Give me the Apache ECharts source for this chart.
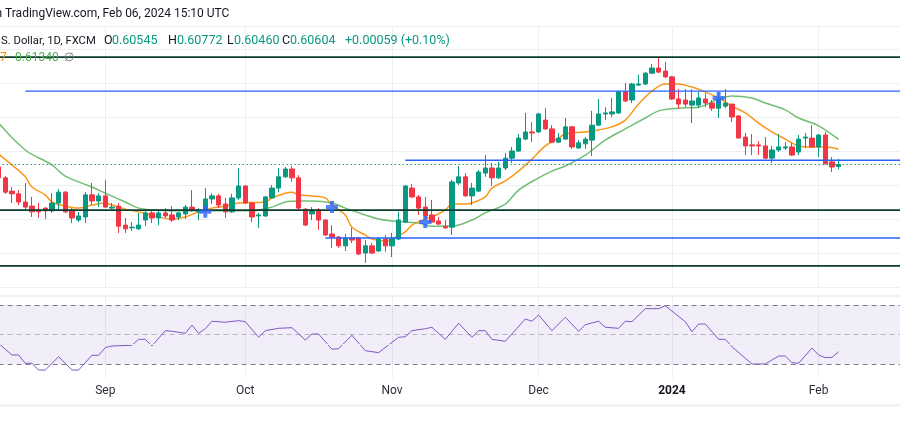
<!DOCTYPE html>
<html><head><meta charset="utf-8">
<script src="https://cdn.jsdelivr.net/npm/echarts@6/dist/echarts.min.js"></script>
<style>html,body{margin:0;padding:0;background:#fff;overflow:hidden}#c{width:900px;height:441px}</style>
</head><body><div id="c"></div>
<script>
// ---- categories (trading days) ----
const dates = [
'2023-08-10','2023-08-11','2023-08-14','2023-08-15','2023-08-16','2023-08-17','2023-08-18','2023-08-21','2023-08-22','2023-08-23','2023-08-24','2023-08-25','2023-08-28','2023-08-29','2023-08-30','2023-08-31',
'2023-09-01','2023-09-04','2023-09-05','2023-09-06','2023-09-07','2023-09-08','2023-09-11','2023-09-12','2023-09-13','2023-09-14','2023-09-15','2023-09-18','2023-09-19','2023-09-20','2023-09-21','2023-09-22','2023-09-25','2023-09-26','2023-09-27','2023-09-28','2023-09-29',
'2023-10-02','2023-10-03','2023-10-04','2023-10-05','2023-10-06','2023-10-09','2023-10-10','2023-10-11','2023-10-12','2023-10-13','2023-10-16','2023-10-17','2023-10-18','2023-10-19','2023-10-20','2023-10-23','2023-10-24','2023-10-25','2023-10-26','2023-10-27','2023-10-30','2023-10-31',
'2023-11-01','2023-11-02','2023-11-03','2023-11-06','2023-11-07','2023-11-08','2023-11-09','2023-11-10','2023-11-13','2023-11-14','2023-11-15','2023-11-16','2023-11-17','2023-11-20','2023-11-21','2023-11-22','2023-11-23','2023-11-24','2023-11-27','2023-11-28','2023-11-29','2023-11-30',
'2023-12-01','2023-12-04','2023-12-05','2023-12-06','2023-12-07','2023-12-08','2023-12-11','2023-12-12','2023-12-13','2023-12-14','2023-12-15','2023-12-18','2023-12-19','2023-12-20','2023-12-21','2023-12-22','2023-12-26','2023-12-27','2023-12-28','2023-12-29',
'2024-01-02','2024-01-03','2024-01-04','2024-01-05','2024-01-08','2024-01-09','2024-01-10','2024-01-11','2024-01-12','2024-01-15','2024-01-16','2024-01-17','2024-01-18','2024-01-19','2024-01-22','2024-01-23','2024-01-24','2024-01-25','2024-01-26','2024-01-29','2024-01-30','2024-01-31',
'2024-02-01','2024-02-02','2024-02-05','2024-02-06',
'2024-02-07','2024-02-08','2024-02-09','2024-02-12','2024-02-13','2024-02-14','2024-02-15','2024-02-16','2024-02-19','2024-02-20'
];
const tickIdx = [16, 37, 59, 81, 101, 123];
const tickLabels = ['Sep', 'Oct', 'Nov', 'Dec', '2024', 'Feb'];

// ---- OHLC ----
const opens = [0.6053,0.6021,0.5982,0.5974,0.5950,0.5938,0.5926,0.5932,0.5924,0.5947,0.5979,0.5926,0.5897,0.5906,0.5971,0.5953,0.5968,0.5932,0.5938,0.5882,0.5874,0.5871,0.5897,0.5918,0.5903,0.5918,0.5912,0.5906,0.5915,0.5935,0.5921,0.5926,0.5959,0.5968,0.5944,0.5921,0.5962,0.5997,0.5947,0.5909,0.5909,0.5962,0.5991,0.6024,0.6047,0.6021,0.5929,0.5915,0.5926,0.5897,0.5856,0.5847,0.5821,0.5844,0.5844,0.5800,0.5821,0.5806,0.5841,0.5821,0.5841,0.5891,0.5991,0.5965,0.5935,0.5912,0.5894,0.5879,0.5876,0.6006,0.6024,0.5968,0.5982,0.6035,0.6050,0.6021,0.6050,0.6079,0.6100,0.6135,0.6156,0.6156,0.6191,0.6165,0.6126,0.6135,0.6171,0.6109,0.6121,0.6132,0.6176,0.6209,0.6209,0.6212,0.6274,0.6250,0.6294,0.6297,0.6329,0.6344,0.6335,0.6318,0.6253,0.6250,0.6235,0.6235,0.6253,0.6241,0.6226,0.6232,0.6238,0.6203,0.6141,0.6118,0.6118,0.6115,0.6079,0.6103,0.6109,0.6112,0.6097,0.6138,0.6138,0.6112,0.6147,0.6068,0.60545];
const highs = [0.6059,0.6026,0.5994,0.5985,0.6006,0.5965,0.5947,0.5935,0.5976,0.5988,0.5982,0.5932,0.5921,0.5979,0.6006,0.5976,0.6015,0.5947,0.5947,0.5903,0.5891,0.5918,0.5926,0.5926,0.5926,0.5932,0.5938,0.5921,0.5941,0.5985,0.5932,0.5991,0.5976,0.5974,0.5962,0.5974,0.6050,0.6000,0.5950,0.5918,0.5968,0.6000,0.6050,0.6053,0.6056,0.6029,0.5932,0.5935,0.5932,0.5900,0.5882,0.5850,0.5856,0.5874,0.5847,0.5838,0.5829,0.5844,0.5853,0.5859,0.5921,0.6000,0.6003,0.5971,0.5965,0.5956,0.5906,0.5897,0.6015,0.6056,0.6035,0.6006,0.6044,0.6088,0.6065,0.6068,0.6094,0.6112,0.6150,0.6212,0.6185,0.6212,0.6226,0.6176,0.6153,0.6197,0.6174,0.6132,0.6141,0.6218,0.6253,0.6229,0.6256,0.6276,0.6300,0.6300,0.6324,0.6332,0.6356,0.6376,0.6362,0.6321,0.6282,0.6282,0.6282,0.6274,0.6271,0.6250,0.6271,0.6282,0.6238,0.6206,0.6153,0.6150,0.6129,0.6141,0.6115,0.6150,0.6126,0.6124,0.6147,0.6153,0.6176,0.6150,0.6156,0.6082,0.60772];
const lows = [0.6015,0.5974,0.5947,0.5941,0.5926,0.5906,0.5903,0.5900,0.5918,0.5926,0.5918,0.5888,0.5891,0.5888,0.5941,0.5935,0.5932,0.5929,0.5859,0.5859,0.5865,0.5868,0.5879,0.5888,0.5882,0.5903,0.5891,0.5897,0.5900,0.5921,0.5897,0.5918,0.5944,0.5932,0.5903,0.5918,0.5956,0.5944,0.5891,0.5874,0.5906,0.5959,0.5979,0.6021,0.6009,0.5926,0.5879,0.5897,0.5868,0.5850,0.5815,0.5815,0.5806,0.5829,0.5794,0.5771,0.5797,0.5803,0.5803,0.5788,0.5838,0.5888,0.5962,0.5912,0.5903,0.5888,0.5882,0.5871,0.5853,0.6000,0.5965,0.5941,0.5979,0.6024,0.5997,0.6018,0.6044,0.6065,0.6097,0.6132,0.6126,0.6153,0.6162,0.6124,0.6124,0.6132,0.6106,0.6106,0.6106,0.6085,0.6174,0.6191,0.6200,0.6209,0.6244,0.6241,0.6291,0.6294,0.6326,0.6329,0.6315,0.6250,0.6224,0.6229,0.6182,0.6226,0.6229,0.6218,0.6197,0.6226,0.6185,0.6138,0.6088,0.6088,0.6088,0.6076,0.6065,0.6097,0.6103,0.6085,0.6088,0.6109,0.6109,0.6082,0.6062,0.6038,0.60460];
const closes = [0.6021,0.5979,0.5974,0.5950,0.5935,0.5921,0.5921,0.5924,0.5947,0.5979,0.5921,0.5903,0.5909,0.5971,0.5953,0.5968,0.5935,0.5935,0.5879,0.5871,0.5876,0.5882,0.5918,0.5903,0.5918,0.5909,0.5897,0.5918,0.5935,0.5926,0.5926,0.5959,0.5968,0.5941,0.5921,0.5962,0.5997,0.5947,0.5906,0.5912,0.5965,0.5991,0.6024,0.6047,0.6021,0.5932,0.5882,0.5926,0.5897,0.5853,0.5847,0.5821,0.5844,0.5838,0.5797,0.5821,0.5800,0.5841,0.5821,0.5844,0.5897,0.5997,0.5965,0.5932,0.5909,0.5891,0.5885,0.5874,0.6009,0.6024,0.5968,0.5991,0.6038,0.6050,0.6021,0.6050,0.6079,0.6100,0.6138,0.6156,0.6153,0.6209,0.6165,0.6126,0.6138,0.6171,0.6112,0.6124,0.6135,0.6176,0.6209,0.6212,0.6215,0.6274,0.6247,0.6297,0.6297,0.6329,0.6344,0.6332,0.6318,0.6253,0.6238,0.6238,0.6247,0.6256,0.6241,0.6226,0.6250,0.6241,0.6200,0.6138,0.6115,0.6115,0.6115,0.6079,0.6103,0.6112,0.6112,0.6088,0.6135,0.6141,0.6112,0.6147,0.6062,0.6053,0.60604];

// ---- moving averages ----
const fastMaIdx = [0,2,4,5,7,8,10,12,14,16,17,19,21,24,26,28,30,32,34,36,40,41,43,44,45,47,49,50,52,53,55,56,58,59,61,62,64,65,67,68,70,71,73,74,76,78,80,82,84,85,88,90,92,94,96,98,100,102,104,106,108,110,112,114,116,118,120,122,124,126];
const fastMaVal = [0.6091,0.6059,0.6024,0.5994,0.5971,0.5950,0.5938,0.5932,0.5941,0.5947,0.5941,0.5929,0.5921,0.5906,0.5900,0.5906,0.5921,0.5932,0.5938,0.5947,0.5950,0.5962,0.5976,0.5979,0.5971,0.5968,0.5962,0.5941,0.5912,0.5876,0.5853,0.5841,0.5835,0.5841,0.5862,0.5882,0.5900,0.5906,0.5926,0.5944,0.5944,0.5947,0.5965,0.5991,0.6012,0.6041,0.6076,0.6115,0.6138,0.6150,0.6156,0.6162,0.6171,0.6191,0.6238,0.6276,0.6297,0.6297,0.6288,0.6274,0.6256,0.6232,0.6212,0.6182,0.6156,0.6135,0.6115,0.6112,0.6112,0.6106];
const slowMaIdx = [0,4,8,10,14,16,19,21,24,27,30,35,38,41,43,45,47,50,52,55,57,59,63,65,68,71,73,76,78,81,83,85,88,91,94,97,99,102,105,108,110,113,115,118,120,123,126];
const slowMaVal = [0.6182,0.6103,0.6059,0.6026,0.5994,0.5976,0.5950,0.5932,0.5926,0.5924,0.5924,0.5924,0.5924,0.5935,0.5950,0.5953,0.5953,0.5947,0.5932,0.5912,0.5900,0.5894,0.5888,0.5879,0.5879,0.5897,0.5918,0.5944,0.5985,0.6021,0.6041,0.6056,0.6088,0.6132,0.6165,0.6197,0.6218,0.6226,0.6229,0.6253,0.6262,0.6256,0.6241,0.6221,0.6197,0.6174,0.6134];

// ---- cross signals ----
const crossIdx = [31, 50, 64, 108];
const crossVal = [0.5921, 0.5935, 0.5891, 0.6256];

// ---- horizontal drawings ----
const levelVal = [0.6376, 0.6276, 0.6073, 0.5926, 0.5844, 0.5762];
const levelStart = [0, 4, 61, 0, 49, 0];
const levelKind = ['dark', 'blue', 'blue', 'dark', 'blue', 'dark'];

// ---- RSI ----
const rsiIdx = [0,2,3,4,5,6,7,9,11,12,14,15,16,17,20,21,22,23,25,26,28,29,30,31,32,34,36,37,39,40,42,44,46,47,48,50,51,53,55,57,60,61,62,64,65,67,69,71,72,73,74,76,79,80,81,83,85,87,88,90,91,93,94,95,97,98,99,100,103,104,105,106,108,109,110,113,115,117,118,119,120,122,123,124,125,126];
const rsiVal = [44.0,36.1,36.1,30.5,30.5,25.9,25.9,34.9,25.9,25.9,35.9,35.9,41.1,42.2,42.7,46.7,46.7,42.2,52.6,52.2,50.8,56.4,50.8,53.9,59.0,58.3,59.4,58.7,48.1,52.6,54.2,54.6,46.3,50.3,50.3,40.0,40.4,49.5,39.0,37.7,48.1,48.5,52.6,53.9,54.9,46.7,57.6,48.1,52.6,52.6,46.7,45.4,60.5,59.0,63.2,52.6,61.7,52.2,56.6,59.0,54.9,54.2,59.0,58.7,67.5,67.5,67.5,69.5,58.7,51.9,57.1,57.1,46.7,46.7,41.7,30.0,30.0,35.4,35.4,30.9,30.5,40.8,36.1,34.3,34.5,38.3];
const rsiBands = [70, 50, 30];

// ---------------------------------------------------------------
const UP = '#089981', DOWN = '#F23645', BLUE = '#2962FF', DARK = '#0B3D2C';
const GRID = '#EDEFF3';
const FONT = 'Roboto, "Liberation Sans", sans-serif';
const lastIdx = dates.length - 1;
const zip = (a, b) => a.map((v, i) => [v, b[i]]);

const candleData = opens.map((o, i) => [o, closes[i], lows[i], highs[i]]);

const xCommon = (gi, showLabel) => ({
  type: 'category', gridIndex: gi, data: dates, boundaryGap: false,
  axisLine: { show: false }, axisTick: { show: false },
  splitLine: { show: true, interval: (i) => tickIdx.includes(i), lineStyle: { color: GRID, width: 1 } },
  axisLabel: {
    show: showLabel, interval: (i) => tickIdx.includes(i), margin: 7,
    color: '#2a2e39', fontSize: 12, fontFamily: FONT,
    formatter: (v, i) => { const k = tickIdx.indexOf(i); const t = k >= 0 ? tickLabels[k] : ''; return t === '2024' ? '{b|' + t + '}' : t; },
    rich: { b: { fontWeight: 'bold', color: '#131722', fontSize: 12, fontFamily: FONT } }
  }
});

const levelSeries = levelVal.map((v, k) => ({
  type: 'line', xAxisIndex: 0, yAxisIndex: 0, silent: true, z: 5,
  data: [[levelStart[k], v], [lastIdx, v]], showSymbol: false, symbol: 'none',
  lineStyle: { color: levelKind[k] === 'dark' ? DARK : BLUE, width: levelKind[k] === 'dark' ? 1.6 : 1.4 }
}));

const plus = 'path://M4,0H8V4H12V8H8V12H4V8H0V4H4Z';

const txt = (x, y, text, fill, size, extra) => ({
  type: 'text', x: x, y: y, z: 100, silent: true,
  style: Object.assign({ text: text, fill: fill, font: size + 'px ' + FONT, verticalAlign: 'middle' }, extra || {})
});

const option = {
  animation: false,
  backgroundColor: '#ffffff',
  grid: [
    { left: -1.4, right: -5.3, top: 26, height: 261, containLabel: false, outerBoundsMode: 'none' },
    { left: -1.4, right: -5.3, top: 296, height: 82, containLabel: false, outerBoundsMode: 'none' }
  ],
  xAxis: [xCommon(0, false), xCommon(1, true)],
  yAxis: [
    { type: 'value', gridIndex: 0, min: 0.57, max: 0.646765, interval: 0.01, position: 'right',
      axisLine: { show: false }, axisTick: { show: false }, axisLabel: { show: false },
      splitLine: { show: true, lineStyle: { color: GRID, width: 1 } } },
    { type: 'value', gridIndex: 1, min: 20.5, max: 76.1, position: 'right',
      axisLine: { show: false }, axisTick: { show: false }, axisLabel: { show: false },
      splitLine: { show: false } }
  ],
  series: [
    { type: 'line', name: 'slow', xAxisIndex: 0, yAxisIndex: 0, data: zip(slowMaIdx, slowMaVal),
      showSymbol: false, symbol: 'none', smooth: 0.35, z: 2, silent: true,
      lineStyle: { color: '#4CAF50', width: 1.5, opacity: 0.8 } },
    { type: 'line', name: 'fast', xAxisIndex: 0, yAxisIndex: 0, data: zip(fastMaIdx, fastMaVal),
      showSymbol: false, symbol: 'none', smooth: 0.35, z: 2, silent: true,
      lineStyle: { color: '#FB8C00', width: 1.5, opacity: 0.9 } },
    { type: 'candlestick', xAxisIndex: 0, yAxisIndex: 0, data: candleData, barWidth: 5, z: 3,
      itemStyle: { color: UP, color0: DOWN, borderColor: UP, borderColor0: DOWN, borderWidth: 1 } },
    ...levelSeries,
    { type: 'line', xAxisIndex: 0, yAxisIndex: 0, silent: true, z: 4,
      data: [[0, closes[closes.length - 1]], [lastIdx, closes[closes.length - 1]]], showSymbol: false, symbol: 'none',
      lineStyle: { color: UP, width: 1, type: [1.5, 2.5] } },
    { type: 'scatter', xAxisIndex: 0, yAxisIndex: 0, data: zip(crossIdx, crossVal), symbol: plus, symbolSize: 12,
      itemStyle: { color: BLUE }, z: 6, silent: true },
    { type: 'line', xAxisIndex: 1, yAxisIndex: 1, data: zip(rsiIdx, rsiVal), showSymbol: false, symbol: 'none',
      lineStyle: { color: '#7E57C2', width: 1 }, z: 4, silent: true,
      markArea: { silent: true, itemStyle: { color: 'rgba(126,87,194,0.1)' }, data: [[{ yAxis: rsiBands[2] }, { yAxis: rsiBands[0] }]] },
      markLine: { silent: true, symbol: 'none', label: { show: false },
        data: [
          { yAxis: 43.4, lineStyle: { color: '#ECEDF1', type: 'solid', width: 1 } },
          { yAxis: rsiBands[0], lineStyle: { color: '#787B86', type: [5, 4], width: 1 } },
          { yAxis: rsiBands[1], lineStyle: { color: 'rgba(120,123,134,0.5)', type: [5, 4], width: 1 } },
          { yAxis: rsiBands[2], lineStyle: { color: '#787B86', type: [5, 4], width: 1 } }
        ] } }
  ],
  graphic: [
    { type: 'rect', shape: { x: 0, y: 295.5, width: 900, height: 1 }, style: { fill: '#E0E3EB' }, silent: true, z: 1 },
    { type: 'rect', shape: { x: 0, y: 404.5, width: 900, height: 2 }, style: { fill: '#ECEEF2' }, silent: true, z: 1 },
    txt(-11.4, 14, 'on TradingView.com, Feb 06, 2024 15:10 UTC', '#131722', 12),
    txt(1, 41, 'S. Dollar, 1D, FXCM', '#131722', 11.3),
    txt(104, 41, 'O', '#131722', 12.5), txt(112, 41, '0.60545', UP, 12.5),
    txt(168, 41, 'H', '#131722', 12.5), txt(177, 41, '0.60772', UP, 12.5),
    txt(227, 41, 'L', '#131722', 12.5), txt(234, 41, '0.60460', UP, 12.5),
    txt(282, 41, 'C', '#131722', 12.5), txt(290, 41, '0.60604', UP, 12.5),
    txt(345, 41, '+0.00059 (+0.10%)', UP, 12.5),
    txt(0, 58, '7', '#FB8C00', 12),
    txt(15, 58, '0.61340', '#4CAF50', 12),
    txt(64, 58, '\u2205', '#787B86', 12)
  ]
};

const chart = echarts.init(document.getElementById('c'), null, { renderer: 'canvas', width: 900, height: 441 });
chart.setOption(option);
</script>
</body></html>
